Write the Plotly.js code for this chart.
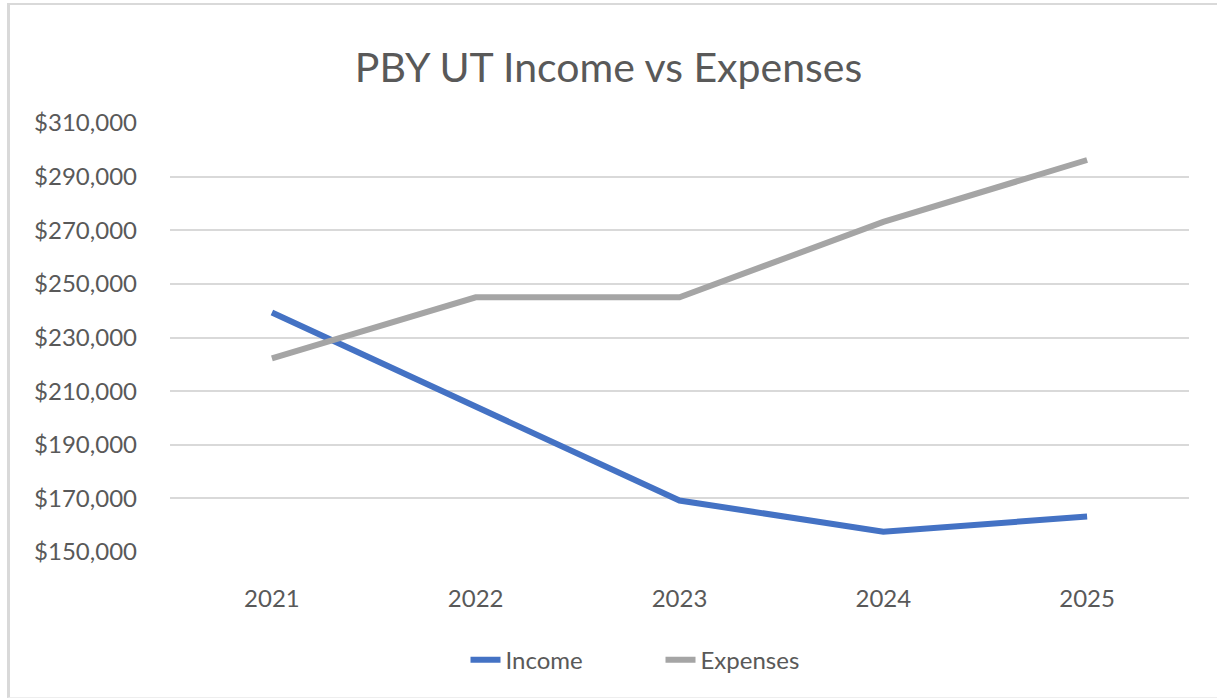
<!DOCTYPE html>
<html>
<head>
<meta charset="utf-8">
<script src="https://cdn.plot.ly/plotly-3.0.1.min.js"></script>
<style>
  html, body { margin: 0; padding: 0; background: #fff; }
  #chart { width: 1217px; height: 698px; position: absolute; left: 0; top: 0; }
  #frame { position: absolute; left: 7px; top: 3px; width: 1215px; height: 692px;
           border-left: 3px solid #d9d9d9; border-top: 2px solid #d9d9d9; border-bottom: 1px solid #eeeeee;
           pointer-events: none; }
</style>
</head>
<body>
<div id="chart"></div>
<div id="frame"></div>
<script>
const years = ["2021", "2022", "2023", "2024", "2025"];
const income = [239300, 204100, 169200, 157600, 163200];
const expenses = [222200, 245000, 245000, 273100, 296200];
const yTicks = [150000, 170000, 190000, 210000, 230000, 250000, 270000, 290000, 310000];
const yTickLabels = ["$150,000", "$170,000", "$190,000", "$210,000", "$230,000", "$250,000", "$270,000", "$290,000", "$310,000"];

const fontFam = "Lato, 'Open Sans', sans-serif";

const traces = [
  { x: years, y: income, name: "Income", type: "scatter", mode: "lines",
    line: { color: "#4472c4", width: 6, shape: "linear" } },
  { x: years, y: expenses, name: "Expenses", type: "scatter", mode: "lines",
    line: { color: "#a5a5a5", width: 6, shape: "linear" } }
];

const layout = {
  width: 1217, height: 698,
  paper_bgcolor: "rgba(0,0,0,0)", plot_bgcolor: "rgba(0,0,0,0)",
  margin: { l: 170, r: 28, t: 123, b: 146 },
  title: { text: "PBY UT Income vs Expenses", x: 0.5, xanchor: "center", y: 0.903, yanchor: "middle",
           font: { family: fontFam, size: 41, color: "#595959" } },
  xaxis: { type: "category", range: [-0.5, 4.5], showgrid: false, zeroline: false, showline: false,
           ticks: "", tickfont: { family: fontFam, size: 24, color: "#595959" }, ticklabelstandoff: 30 },
  yaxis: { range: [150000, 310000], tickvals: yTicks, ticktext: yTickLabels,
           showgrid: true, gridcolor: "#d9d9d9", gridwidth: 2, zeroline: false, showline: false,
           ticks: "", tickfont: { family: fontFam, size: 24, color: "#595959" }, ticklabelstandoff: 32 },
  showlegend: true,
  legend: { orientation: "h", x: 0.29, xanchor: "left", y: -0.252, yanchor: "middle",
            entrywidth: 150, entrywidthmode: "pixels",
            font: { family: fontFam, size: 24, color: "#595959" } },
  hovermode: false
};

Plotly.newPlot("chart", traces, layout, { staticPlot: true, displayModeBar: false });
</script>
</body>
</html>
